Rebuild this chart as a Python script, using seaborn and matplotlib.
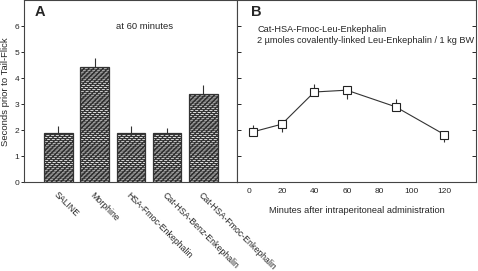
import matplotlib
matplotlib.use("Agg")
import matplotlib.pyplot as plt
import numpy as np
import pandas as pd
import seaborn as sns

sns.set_style("white")
plt.rcParams['font.family'] = ['Liberation Sans', 'DejaVu Sans']
plt.rcParams['hatch.linewidth'] = 0.8
plt.rcParams['hatch.color'] = '#333333'

# panel A: tail-flick latency at 60 min
groups = ['SALINE', 'Morphine', 'HSA-Fmoc-Enkephalin',
          'Cat-HSA-Benz-Enkephalin', 'Cat-HSA-Fmoc-Enkephalin']
latency = [1.9, 4.45, 1.9, 1.9, 3.4]
latency_err = [0.25, 0.33, 0.25, 0.17, 0.33]

# panel B: time course
minutes = [2, 20, 40, 60, 90, 120]
course = [1.93, 2.23, 3.47, 3.54, 2.9, 1.83]
course_err_up = [0.28, 0, 0.3, 0, 0.3, 0]
course_err_dn = [0, 0.3, 0, 0.35, 0, 0.28]

fig = plt.figure(figsize=(4.78, 2.71), dpi=100)
axA = fig.add_axes([0.0502, 0.3284, 0.4456, 0.6700])
axB = fig.add_axes([0.4958, 0.3284, 0.5000, 0.6700])

dfA = pd.DataFrame({'group': groups, 'latency': latency})
sns.barplot(data=dfA, x='group', y='latency', ax=axA, color='#e8e8e8',
            width=0.79, edgecolor='#333333', linewidth=0.9, errorbar=None)
for p in axA.patches:
    p.set_hatch('--------///////')
axA.errorbar(range(len(groups)), latency, yerr=[np.zeros(5), latency_err],
             fmt='none', ecolor='#333333', elinewidth=0.8, capsize=0)
axA.set_xlim(-0.95, 4.93)
axA.set_ylim(0, 7)
axA.set_yticks(range(7))
axA.set_xlabel('')
axA.set_ylabel('Seconds prior to Tail-Flick', fontsize=6.8)
axA.yaxis.set_label_coords(-0.068, 0.5)
axA.set_xticks(range(len(groups)))
axA.set_xticklabels(groups, rotation=-45, ha='left', va='top',
                    rotation_mode='anchor', fontsize=6.3)
axA.tick_params(axis='x', length=0, pad=6)
axA.tick_params(axis='y', which='both', left=True, right=True, direction='out',
                length=2.5, width=0.7, labelsize=6, pad=1)
axA.text(0.05, 0.975, 'A', transform=axA.transAxes, fontsize=10.5,
         fontweight='bold', va='top')
axA.text(0.43, 0.88, 'at 60 minutes', transform=axA.transAxes, fontsize=6.8,
         va='top')

dfB = pd.DataFrame({'minutes': minutes, 'latency': course})
axB.errorbar(minutes, course, yerr=[course_err_dn, course_err_up],
             fmt='none', ecolor='#333333', elinewidth=0.8, capsize=0, zorder=1)
sns.lineplot(data=dfB, x='minutes', y='latency', ax=axB, color='#333333',
             linewidth=0.8, marker='s', markersize=6, markerfacecolor='white',
             markeredgecolor='#222222', markeredgewidth=0.8, zorder=3)
axB.set_xlim(-7.6, 139.5)
axB.set_ylim(0, 7)
axB.set_yticks(range(7))
axB.set_yticklabels([])
axB.set_xticks(range(0, 121, 20))
axB.set_ylabel('')
axB.set_xlabel('Minutes after intraperitoneal administration', fontsize=6.7,
               labelpad=8)
axB.tick_params(axis='x', direction='in', length=3, width=0.7, labelsize=6,
                pad=4)
axB.tick_params(axis='y', left=True, right=True, direction='in', length=3,
                width=0.7, labelleft=False)
axB.text(0.06, 0.975, 'B', transform=axB.transAxes, fontsize=10.5,
         fontweight='bold', va='top')
axB.text(0.085, 0.865, 'Cat-HSA-Fmoc-Leu-Enkephalin\n2 \u00b5moles covalently-linked Leu-Enkephalin / 1 kg BW',
         transform=axB.transAxes, fontsize=6.6, va='top', linespacing=1.35)

for ax in (axA, axB):
    for s in ax.spines.values():
        s.set_color('#444444')
        s.set_linewidth(0.8)

fig.savefig('out.png', dpi=100)
